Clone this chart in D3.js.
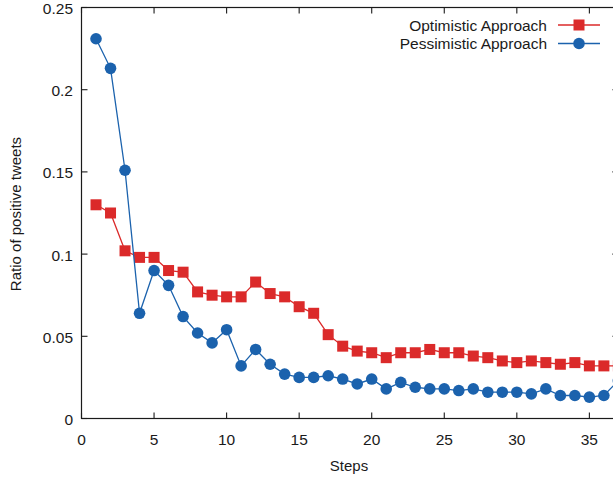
<!DOCTYPE html>
<html>
<head>
<meta charset="utf-8">
<script src="https://cdn.jsdelivr.net/npm/d3@7"></script>
<style>
  html, body { margin: 0; padding: 0; background: #fff; overflow: hidden; }
  svg { display: block; font-family: "Liberation Sans", Arial, sans-serif; }
</style>
</head>
<body>
<svg id="chart" width="613" height="477"></svg>
<script>
const steps = d3.range(1, 38);
const optimistic = [0.130, 0.125, 0.102, 0.098, 0.098, 0.090, 0.089, 0.077, 0.075, 0.074,
  0.074, 0.083, 0.076, 0.074, 0.068, 0.064, 0.051, 0.044, 0.041, 0.040,
  0.037, 0.040, 0.040, 0.042, 0.040, 0.040, 0.038, 0.037, 0.035, 0.034,
  0.035, 0.034, 0.033, 0.034, 0.032, 0.032, 0.032];
const pessimistic = [0.231, 0.213, 0.151, 0.064, 0.090, 0.081, 0.062, 0.052, 0.046, 0.054,
  0.032, 0.042, 0.033, 0.027, 0.025, 0.025, 0.026, 0.024, 0.021, 0.024,
  0.018, 0.022, 0.019, 0.018, 0.018, 0.017, 0.018, 0.016, 0.016, 0.016,
  0.015, 0.018, 0.014, 0.014, 0.013, 0.014, 0.023];
const xTicks = [0, 5, 10, 15, 20, 25, 30, 35];
const yTicks = [0, 0.05, 0.1, 0.15, 0.2, 0.25];

const RED = '#db2a2a', BLUE = '#1b62ad';
const svg = d3.select('#chart');

const L = 81.5, R = 618.4, T = 7.5, B = 418.5;
const x = d3.scaleLinear().domain([0, 37]).range([L, R]);
const y = d3.scaleLinear().domain([0, 0.25]).range([B, T]);

// border box
svg.append('rect')
  .attr('x', L).attr('y', T).attr('width', R - L).attr('height', B - T)
  .attr('fill', 'none').attr('stroke', '#1a1a1a').attr('stroke-width', 1.2);

// ticks (inward, mirrored)
const tickG = svg.append('g').attr('stroke', '#1a1a1a').attr('stroke-width', 1.1);
xTicks.forEach(t => {
  tickG.append('line').attr('x1', x(t)).attr('x2', x(t)).attr('y1', B).attr('y2', B - 6);
  tickG.append('line').attr('x1', x(t)).attr('x2', x(t)).attr('y1', T).attr('y2', T + 6);
});
yTicks.forEach(t => {
  tickG.append('line').attr('x1', L).attr('x2', L + 6).attr('y1', y(t)).attr('y2', y(t));
  tickG.append('line').attr('x1', R).attr('x2', R - 6).attr('y1', y(t)).attr('y2', y(t));
});

// tick labels
svg.append('g').selectAll('text').data(xTicks).join('text')
  .attr('x', d => x(d)).attr('y', 439)
  .attr('text-anchor', 'middle').attr('dominant-baseline', 'central')
  .attr('font-size', 15.5).attr('fill', '#1a1a1a')
  .text(d => d);
svg.append('g').selectAll('text').data(yTicks).join('text')
  .attr('x', 73).attr('y', d => y(d) + 1)
  .attr('text-anchor', 'end').attr('dominant-baseline', 'central')
  .attr('font-size', 15.5).attr('fill', '#1a1a1a')
  .text(d => d);

// axis titles
svg.append('text')
  .attr('x', 349).attr('y', 465)
  .attr('text-anchor', 'middle').attr('dominant-baseline', 'central')
  .attr('font-size', 15).attr('fill', '#1a1a1a')
  .text('Steps');
svg.append('text')
  .attr('transform', 'translate(15,214) rotate(-90)')
  .attr('text-anchor', 'middle').attr('dominant-baseline', 'central')
  .attr('font-size', 15).attr('fill', '#1a1a1a')
  .text('Ratio of positive tweets');

const line = d3.line().x((d, i) => x(steps[i])).y(d => y(d));

// optimistic series
svg.append('path').datum(optimistic)
  .attr('d', line).attr('fill', 'none')
  .attr('stroke', RED).attr('stroke-width', 1.3);
svg.append('g').selectAll('rect').data(optimistic).join('rect')
  .attr('x', (d, i) => x(steps[i]) - 5.5).attr('y', d => y(d) - 5.5)
  .attr('width', 11).attr('height', 11)
  .attr('fill', RED);

// pessimistic series
svg.append('path').datum(pessimistic)
  .attr('d', line).attr('fill', 'none')
  .attr('stroke', BLUE).attr('stroke-width', 1.3);
svg.append('g').selectAll('circle').data(pessimistic).join('circle')
  .attr('cx', (d, i) => x(steps[i])).attr('cy', d => y(d))
  .attr('r', 5.8).attr('fill', BLUE);

// legend
const legend = [
  { name: 'Optimistic Approach', color: RED, shape: 'square', cy: 25 },
  { name: 'Pessimistic Approach', color: BLUE, shape: 'circle', cy: 43.5 }
];
legend.forEach(k => {
  svg.append('text')
    .attr('x', 547).attr('y', k.cy)
    .attr('text-anchor', 'end').attr('dominant-baseline', 'central')
    .attr('font-size', 15.5).attr('fill', '#1a1a1a')
    .text(k.name);
  svg.append('line')
    .attr('x1', 558).attr('x2', 600).attr('y1', k.cy).attr('y2', k.cy)
    .attr('stroke', k.color).attr('stroke-width', 1.3);
  if (k.shape === 'square') {
    svg.append('rect').attr('x', 579 - 5.5).attr('y', k.cy - 5.5)
      .attr('width', 11).attr('height', 11).attr('fill', k.color);
  } else {
    svg.append('circle').attr('cx', 579).attr('cy', k.cy).attr('r', 5.8).attr('fill', k.color);
  }
});
</script>
</body>
</html>
